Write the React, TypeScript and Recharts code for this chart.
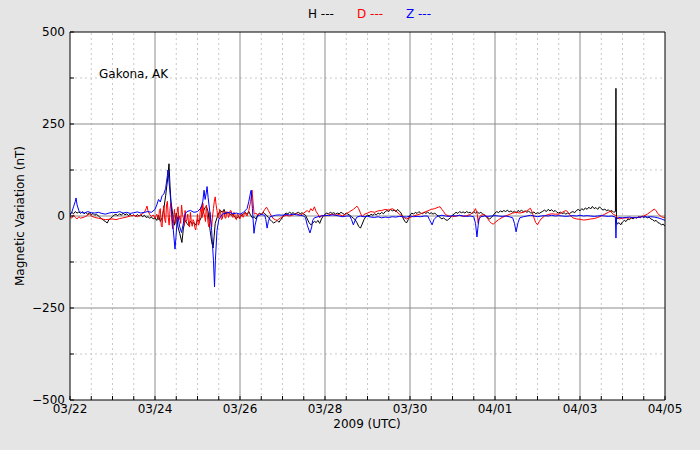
import React from 'react';
import { LineChart, Line, XAxis, YAxis, ReferenceLine } from 'recharts';

// hours since 2009-03-22 00:00 UTC
const X_MAJOR = [0, 48, 96, 144, 192, 240, 288, 336];
const X_LABELS = ['03/22', '03/24', '03/26', '03/28', '03/30', '04/01', '04/03', '04/05'];
const X_MINOR = [0, 12, 24, 36, 48, 60, 72, 84, 96, 108, 120, 132, 144, 156, 168, 180, 192, 204, 216, 228, 240, 252, 264, 276, 288, 300, 312, 324, 336];
const Y_MAJOR = [-500, -250, 0, 250, 500];
const Y_MINOR = [-375, -125, 125, 375];
const Y_TICKS = [-500, -375, -250, -125, 0, 125, 250, 375, 500];

// H component (nT) : [hour, value]
const H_SERIES: [number, number][] = [
  [0,5],[1,10],[2,6],[3,12],[4,8],[5,11],[6,7],[7,12],[8,6],[9,10],[10,4],[11,9],[12,3],[13,7],[14,2],[15,5],[16,0],[17,-4],[18,-8],[19,-12],[20,-15],[21,-19],[22,-10],[23,-6],[24,-2],[25,3],[26,4],[27,1],[28,6],[29,2],[30,8],[31,3],[32,6],[33,1],[34,5],[35,0],[36,3],[37,-1],[38,4],[39,0],[40,3],[41,-2],[42,2],[43,-4],[44,-2],[45,-6],[46,-3],[47,-8],[48,-5],[49,-12],[50,2],[51,-15],[52,-5],[53,20],[54,55],[55,95],[55.9,142],[56.5,80],[57,40],[58,5],[59,-25],[60,8],[61,-30],[62,-48],[63.2,-72],[64,-35],[65,-12],[66,-20],[67,-26],[68,-14],[69,-22],[70,-18],[71,-25],[72,-10],[73,-15],[74,-5],[75,5],[76,22],[77,26],[78,12],[79,-35],[80,-70],[80.8,-87],[81.4,-55],[82,-20],[83,-5],[84,8],[85,15],[86,10],[87,18],[88,5],[89,10],[90,6],[91,2],[92,4],[93,-3],[94,-6],[95,-2],[96,-4],[97,2],[98,6],[99,10],[100,4],[101,12],[102,2],[103,-5],[104,-2],[105,-8],[106,3],[107,8],[108,4],[109,10],[110,6],[111,2],[112,-4],[113,-10],[114,-15],[115,-19],[116,-16],[117,-12],[118,-17],[119,-10],[120,-4],[121,4],[122,8],[123,6],[124,10],[125,7],[126,9],[127,5],[128,8],[129,10],[130,6],[131,9],[132,5],[133,2],[134,-8],[135,-18],[136,-24],[137,-20],[138,-14],[139,-18],[140,-12],[141,-20],[142,-8],[143,0],[144,5],[145,8],[146,6],[147,10],[148,7],[149,9],[150,5],[151,8],[152,6],[153,10],[154,7],[155,4],[156,8],[157,5],[158,2],[159,-2],[160,-6],[161,-10],[162,-18],[163,-28],[164,-33],[165,-22],[166,-10],[167,-2],[168,3],[169,0],[170,5],[171,2],[172,6],[173,3],[174,8],[175,5],[176,10],[177,6],[178,12],[179,15],[180,12],[181,18],[182,14],[183,16],[184,12],[185,18],[186,13],[187,8],[188,-5],[189,-14],[190,-19],[191,-10],[192,2],[193,8],[194,5],[195,10],[196,7],[197,12],[198,8],[199,6],[200,10],[201,7],[202,11],[203,6],[204,9],[205,5],[206,8],[207,3],[208,0],[209,-4],[210,-8],[211,-5],[212,-10],[213,-12],[214,-8],[215,-4],[216,2],[217,6],[218,10],[219,7],[220,12],[221,9],[222,11],[223,8],[224,12],[225,9],[226,10],[227,6],[228,12],[229,8],[230,11],[231,7],[232,10],[233,6],[234,3],[235,-2],[236,-5],[237,-8],[238,-4],[239,2],[240,8],[241,12],[242,9],[243,14],[244,11],[245,15],[246,12],[247,16],[248,11],[249,14],[250,10],[251,13],[252,9],[253,15],[254,12],[255,16],[256,11],[257,14],[258,10],[259,13],[260,9],[261,8],[262,11],[263,6],[264,9],[265,7],[266,10],[267,13],[268,16],[269,12],[270,18],[271,14],[272,17],[273,12],[274,15],[275,10],[276,8],[277,11],[278,6],[279,9],[280,5],[281,8],[282,6],[283,10],[284,12],[285,9],[286,15],[287,18],[288,14],[289,20],[290,16],[291,22],[292,18],[293,24],[294,19],[295,26],[296,20],[297,23],[298,18],[299,25],[300,20],[301,16],[302,19],[303,14],[304,17],[305,12],[306,15],[307,10],[308,12],[308.3,347],[308.6,-15],[309,-22],[310,-18],[311,-24],[312,-16],[313,-12],[314,-15],[315,-8],[316,-10],[317,-5],[318,-8],[319,-3],[320,-6],[321,-2],[322,-5],[323,0],[324,-4],[325,-1],[326,-5],[327,-3],[328,-8],[329,-10],[330,-14],[331,-12],[332,-18],[333,-20],[334,-24],[335,-22],[336,-28]
];

// D component (nT)
const D_SERIES: [number, number][] = [
  [0,-2],[1,-6],[2,3],[3,-4],[4,-8],[5,-2],[6,-6],[8,-3],[10,2],[11,6],[12,0],[14,-4],[16,-6],[18,-8],[20,-10],[22,-9],[24,-8],[26,-10],[28,-7],[30,-5],[32,-3],[34,0],[36,2],[38,-2],[40,3],[42,10],[43,20],[43.5,27],[44,15],[45,4],[46,-2],[47,3],[48,-6],[49,5],
  [50,-10],[50.5,15],[51,20],[51.5,-25],[52,-30],[52.5,10],[53,28],[53.5,-10],[54,-18],[54.5,30],[55,40],[55.5,-5],[56,-25],[56.5,20],[57,35],[57.5,-15],[58,-35],[58.5,-5],[59,18],[59.5,-20],[60,-15],[60.5,10],[61,25],[61.5,-10],[62,0],[62.5,-20],[63,30],[63.5,5],[64,-5],[64.5,-25],[65,15],[65.5,-15],[66,-10],[66.5,5],[67,-22],[67.5,-30],[68,10],[68.5,-15],[69,-28],[69.5,-10],[70,-15],[70.5,-32],[71,-38],[71.5,-20],[72,5],[72.5,-25],[73,-20],[73.5,10],[74,25],[74.5,-5],[75,35],[75.5,10],[76,0],[76.5,-15],[77,30],[77.5,5],[78,-20],[78.5,-30],[79,10],[79.5,-10],[80,-30],[80.5,0],[81,20],[81.5,40],[82,52],[82.5,30],[83,15],[83.5,-5],[84,-5],[84.5,18],[85,12],[85.5,-10],[86,-8],[86.5,10],[87,14],[87.5,-5],[88,-6],[88.5,12],[89,10],[89.5,-4],[90,2],[90.5,15],[91,14],[91.5,0],[92,-4],[92.5,10],[93,8],[93.5,-8],[94,-10],[94.5,6],[95,4],[95.5,-6],[96,-8],[96.5,5],[97,6],[97.5,-2],[98,-3],[98.5,8],[99,10],[99.5,2],[100,0],
  [101,15],[102,40],[102.8,70],[103.5,30],[104,5],[105,8],[106,2],[107,6],[108,3],[109,10],[110,18],[111,24],[112,15],[113,6],[114,-2],[115,-8],[116,-10],[117,-12],[118,-8],[119,-5],[120,-2],[122,2],[124,0],[126,3],[128,6],[130,2],[132,8],[134,15],[135,10],[136,20],[137,14],[138,25],[139,12],[140,5],[141,-5],[142,2],[144,0],[146,3],[148,5],[150,2],[152,4],[154,0],[156,6],[158,12],[160,18],[161,22],[162,27],[163,20],[164,8],[165,-2],[166,4],[168,8],[170,12],[172,10],[174,14],[176,15],[178,18],[180,16],[182,20],[184,14],[186,5],[188,-2],[190,-8],[192,-4],[194,0],[196,3],[198,6],[200,10],[202,14],[204,18],[206,20],[208,24],[209,25],[210,18],[211,12],[212,4],[214,0],[216,-2],[218,0],[220,2],[222,-1],[224,1],[226,4],[228,12],[229,20],[230,5],[230.5,-20],[231,-5],[232,2],[234,4],[235,0],[236,-8],[237,-15],[238,-20],[239,-22],[240,-18],[242,-10],[244,-4],[246,0],[248,4],[250,8],[252,10],[254,8],[256,10],[258,14],[259,18],[260,21],[261,10],[262,-5],[263,-18],[264,-24],[265,-15],[266,-8],[268,0],[270,4],[272,6],[274,5],[276,5],[278,10],[280,15],[281,12],[282,4],[284,-5],[286,-8],[288,-9],[290,-11],[292,-10],[294,-8],[296,-7],[298,-4],[300,0],[302,5],[304,10],[305.5,14],[306,8],[307,4],[308,2],[309,-4],[310,-8],[312,-6],[314,-5],[316,-6],[318,-4],[320,-5],[322,-2],[324,0],[326,5],[328,12],[330,19],[331,14],[332,6],[334,-2],[336,-5]
];

// Z component (nT)
const Z_SERIES: [number, number][] = [
  [0,2],[1,10],[2,25],[3,40],[3.4,49],[4,30],[5,15],[6,10],[8,8],[10,12],[12,9],[14,8],[16,10],[18,7],[20,5],[22,8],[24,10],[26,9],[28,12],[30,8],[32,10],[34,7],[36,9],[38,11],[40,8],[42,10],[44,12],[46,10],[48,18],[49,30],[50,45],[51,38],[52,55],[53,60],[54,75],[55,110],[55.3,125],[56,90],[57,35],[58,-20],[59.3,-90],[59.8,-60],[60.5,-10],[61,-2],[62,-30],[63,-45],[64,-20],[65,5],[66,12],[68,15],[70,10],[72,12],[74,22],[75,40],[75.7,70],[76.3,45],[77,65],[77.4,80],[78,50],[79,10],[80,-40],[81,-120],[81.6,-193],[82.1,-120],[83,-40],[84,-10],[86,5],[88,8],[90,10],[92,6],[94,8],[96,5],[98,10],[100,20],[101,40],[102,65],[102.3,70],[103,20],[103.9,-47],[104.5,-25],[105.5,-5],[106,0],[108,4],[110,2],[110.6,-10],[111.3,-33],[112,-15],[113,-2],[116,2],[118,3],[120,2],[122,4],[124,3],[126,5],[128,3],[130,2],[132,0],[133,-5],[134,-25],[135.5,-46],[136.5,-30],[137,-12],[138,-5],[140,-2],[142,0],[144,2],[146,1],[148,3],[150,2],[152,0],[154,-2],[156,0],[158,0],[159,-10],[160,-24],[161,-12],[162,-3],[164,0],[166,-2],[168,-1],[170,-3],[172,-4],[174,-2],[176,-5],[178,-3],[180,-4],[182,-2],[184,-3],[186,-1],[188,-2],[190,-3],[192,0],[194,-2],[196,-1],[198,-2],[200,0],[202,0],[203,-10],[204.5,-24],[205.5,-10],[207,-2],[208,0],[210,2],[212,0],[214,-1],[216,1],[218,0],[220,2],[222,0],[224,-1],[226,0],[228,-2],[229,-20],[229.8,-57],[230.5,-25],[231,-8],[232,-2],[234,0],[236,-1],[238,0],[240,1],[242,0],[244,-1],[246,0],[248,-2],[250,-5],[251,-20],[251.9,-43],[253,-18],[254,-5],[256,-2],[258,0],[260,2],[262,0],[264,-2],[266,0],[268,1],[270,0],[272,2],[274,0],[276,1],[278,0],[280,-1],[282,0],[284,1],[286,0],[288,2],[290,0],[292,1],[294,0],[296,-1],[298,0],[300,1],[302,0],[304,-1],[306,0],[308,-3],[308.3,-60],[308.6,-8],[310,-4],[312,-5],[314,-4],[316,-3],[318,-5],[320,-4],[322,-3],[324,-2],[326,-3],[328,-2],[330,-3],[332,-5],[334,-8],[336,-12]
];

const toRows = (s: [number, number][]) => s.map(([t, v]) => ({ t, v }));
const H_DATA = toRows(H_SERIES);
const D_DATA = toRows(D_SERIES);
const Z_DATA = toRows(Z_SERIES);

const FONT = 'DejaVu Sans, sans-serif';

const fmtX = (v: number) => {
  const i = X_MAJOR.indexOf(v);
  return i >= 0 ? X_LABELS[i] : '';
};
const fmtY = (v: number) => {
  if (Y_MAJOR.indexOf(v) < 0) return '';
  return v < 0 ? '\u2212' + Math.abs(v) : String(v);
};

const txt: React.CSSProperties = {
  position: 'absolute',
  fontFamily: FONT,
  fontSize: 12,
  lineHeight: '14px',
  whiteSpace: 'nowrap',
  color: '#000',
};

export default function App() {
  return (
    <div style={{ position: 'absolute', left: 0, top: 0, width: 700, height: 450, background: '#e5e5e5', overflow: 'hidden' }}>
      <div style={{ position: 'absolute', left: 70, top: 32, width: 595, height: 368, background: '#fff' }} />
      <div style={{ position: 'absolute', left: 0, top: 0 }}>
        <LineChart width={700} height={450} margin={{ top: 0, right: 0, bottom: 0, left: 0 }}>
          <XAxis xAxisId="b" dataKey="t" type="number" domain={[0, 336]} ticks={X_MINOR} interval={0}
            tickFormatter={fmtX} tickSize={-4} tickMargin={8} height={50}
            axisLine={{ stroke: '#000', strokeWidth: 1 }} tickLine={{ stroke: '#000' }}
            tick={{ fill: '#000', fontSize: 12, fontFamily: FONT }} allowDataOverflow />
          <XAxis xAxisId="t" orientation="top" dataKey="t" type="number" domain={[0, 336]} ticks={X_MINOR} interval={0}
            tick={false} tickSize={-4} height={32}
            axisLine={{ stroke: '#000', strokeWidth: 1 }} tickLine={{ stroke: '#000' }} allowDataOverflow />
          <YAxis yAxisId="l" type="number" domain={[-500, 500]} ticks={Y_TICKS} interval={0}
            tickFormatter={fmtY} tickSize={-4} tickMargin={9} width={70}
            axisLine={{ stroke: '#000', strokeWidth: 1 }} tickLine={{ stroke: '#000' }}
            tick={{ fill: '#000', fontSize: 12, fontFamily: FONT }} allowDataOverflow />
          <YAxis yAxisId="r" orientation="right" type="number" domain={[-500, 500]} ticks={Y_TICKS} interval={0}
            tick={false} tickSize={-4} width={35}
            axisLine={{ stroke: '#000', strokeWidth: 1 }} tickLine={{ stroke: '#000' }} allowDataOverflow />

          {X_MINOR.filter((v) => X_MAJOR.indexOf(v) < 0).map((v) => (
            <ReferenceLine key={'xm' + v} xAxisId="b" yAxisId="l" x={v} stroke="#c8c8c8" strokeDasharray="2 3" strokeWidth={1} />
          ))}
          {Y_MINOR.map((v) => (
            <ReferenceLine key={'ym' + v} xAxisId="b" yAxisId="l" y={v} stroke="#c8c8c8" strokeDasharray="2 3" strokeWidth={1} />
          ))}
          {X_MAJOR.slice(1, -1).map((v) => (
            <ReferenceLine key={'xM' + v} xAxisId="b" yAxisId="l" x={v} stroke="#8c8c8c" strokeWidth={1} />
          ))}
          {Y_MAJOR.slice(1, -1).map((v) => (
            <ReferenceLine key={'yM' + v} xAxisId="b" yAxisId="l" y={v} stroke="#8c8c8c" strokeWidth={1} />
          ))}

          <Line xAxisId="b" yAxisId="l" data={H_DATA} dataKey="v" type="linear" stroke="#000000" strokeWidth={1} dot={false} activeDot={false} isAnimationActive={false} />
          <Line xAxisId="b" yAxisId="l" data={D_DATA} dataKey="v" type="linear" stroke="#ff0000" strokeWidth={1} dot={false} activeDot={false} isAnimationActive={false} />
          <Line xAxisId="b" yAxisId="l" data={Z_DATA} dataKey="v" type="linear" stroke="#0000ff" strokeWidth={1} dot={false} activeDot={false} isAnimationActive={false} />
        </LineChart>
      </div>

      <div style={{ ...txt, left: 308, top: 7 }}>H ---</div>
      <div style={{ ...txt, left: 357, top: 7, color: '#ff0000' }}>D ---</div>
      <div style={{ ...txt, left: 406, top: 7, color: '#0000ff' }}>Z ---</div>
      <div style={{ ...txt, left: 99, top: 67 }}>Gakona, AK</div>
      <div style={{ ...txt, left: 367, top: 417, transform: 'translateX(-50%)' }}>2009 (UTC)</div>
      <div style={{ ...txt, left: 20, top: 216, transform: 'translate(-50%, -50%) rotate(-90deg)' }}>Magnetic Variation (nT)</div>
    </div>
  );
}
